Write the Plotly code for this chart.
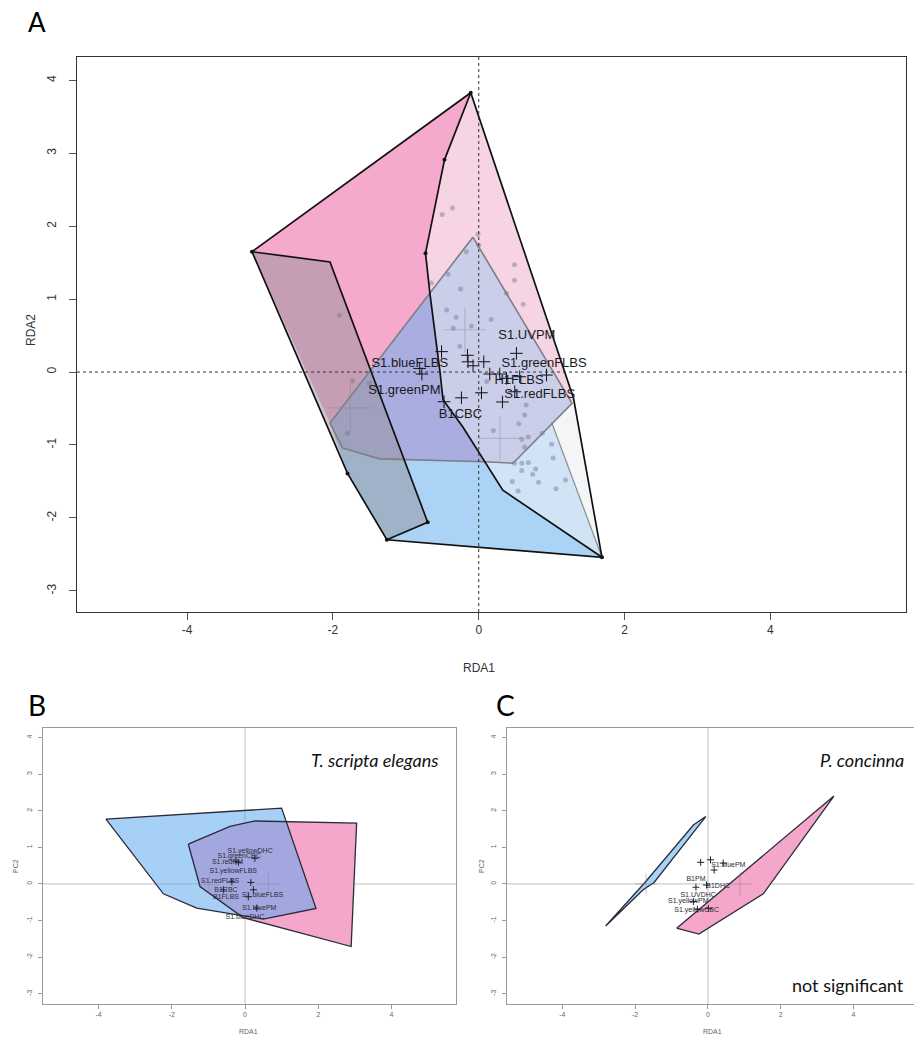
import plotly.graph_objects as go

W, H = 914, 1038

# ---------------- Panel A (RDA1 x RDA2) ----------------
hotpink_x = [-3.11, -0.11, -0.47, -0.73, -0.67, -2.04]
hotpink_y = [1.65, 3.83, 2.91, 1.63, 1.08, -0.70]
lightpink_x = [-0.11, 1.30, 1.28, 0.47, 0.09, -0.22, -0.49, -0.53, -0.67, -0.73, -0.47]
lightpink_y = [3.83, -0.36, -0.43, -1.25, -1.23, -0.75, -0.38, -0.01, 1.08, 1.63, 2.91]
midblue_x = [-2.04, -1.87, -1.36, 0.09, 0.33, 1.69, -1.26, -1.80]
midblue_y = [-0.70, -1.04, -1.19, -1.23, -1.62, -2.54, -2.30, -1.39]
paleblue_x = [0.09, 0.47, 1.00, 1.69, 0.33]
paleblue_y = [-1.23, -1.25, -0.69, -2.54, -1.62]
white_x = [1.00, 1.28, 1.30, 1.69]
white_y = [-0.69, -0.43, -0.36, -2.54]
lavender_x = [-0.08, 1.28, 0.47, 0.09, -0.22, -0.49, -0.53, -0.67]
lavender_y = [1.85, -0.43, -1.25, -1.23, -0.75, -0.38, -0.01, 1.08]
purple_x = [-0.67, -0.53, -0.49, -0.22, 0.09, -1.36, -1.87, -2.04]
purple_y = [1.08, -0.01, -0.38, -0.75, -1.23, -1.19, -1.04, -0.70]
para_x = [-3.11, -2.04, -0.70, -1.26, -1.80]
para_y = [1.65, 1.51, -2.06, -2.30, -1.39]

outer_x = [-3.11, -0.11, 1.30, 1.69, -1.26, -1.80, -3.11]
outer_y = [1.65, 3.83, -0.36, -2.54, -2.30, -1.39, 1.65]
inner_x = [-0.11, -0.47, -0.73, -0.67, -0.53, -0.49, -0.22, 0.33, 1.69]
inner_y = [3.83, 2.91, 1.63, 1.08, -0.01, -0.38, -0.75, -1.62, -2.54]
paraedge_x = [-3.11, -2.04, -0.70, -1.26]
paraedge_y = [1.65, 1.51, -2.06, -2.30]
hull_x = [-0.08, 1.28, 0.47, 0.09, -1.36, -1.87, -2.04, -0.08]
hull_y = [1.85, -0.43, -1.25, -1.23, -1.19, -1.04, -0.70, 1.85]
grayedge_x = [1.00, 1.69]
grayedge_y = [-0.69, -2.54]
vert_x = [-0.11, -3.11, 1.69, -1.26, -1.80, -0.70, -0.47, -0.73]
vert_y = [3.83, 1.65, -2.54, -2.30, -1.39, -2.06, 2.91, 1.63]

site_x = [-0.36, -0.50, -0.01, 0.00, -0.17, -0.42, 0.49, 0.49, 0.38, 0.61, -0.25, -0.44,
          -0.31, -0.35, -0.10, 0.17, -0.26, -1.91, -1.73, -1.50, -1.80, -0.65, 0.11, 0.65,
          0.63, 0.55, 0.20, 0.59, 0.68, 0.63, 1.00, 1.02, 0.87, 0.49, 0.59, 0.68, 0.59,
          0.78, 0.74, 0.46, 0.82, 0.54, 1.06, 1.19]
site_y = [2.25, 2.16, 1.89, 1.74, 1.65, 1.34, 1.47, 1.26, 1.08, 0.93, 1.14, 0.85,
          0.75, 0.60, 0.63, 0.72, 0.35, 0.78, -0.12, -0.15, -0.84, 1.22, -0.13, -0.45,
          -0.59, -0.71, -0.80, -0.92, -0.89, -1.03, -0.99, -1.18, -0.84, -1.25, -1.25, -1.24, -1.35,
          -1.33, -1.40, -1.50, -1.51, -1.63, -1.60, -1.48]

cent_x = [-0.19, -1.76, 0.29]
cent_y = [0.58, -0.49, -0.91]
cent_sx = [0.29, 0.30, 0.30]
cent_sy = [0.31, 0.34, 0.30]

sp_x = [-0.51, -0.155, -0.147, -0.078, 0.069, 0.517, -0.81, -0.78, 0.151, 0.288, 0.38,
        0.562, 0.929, 0.494, 0.325, 0.037, -0.237, -0.476]
sp_y = [0.28, 0.23, 0.14, 0.086, 0.141, 0.257, 0.05, -0.027, -0.027, -0.027, -0.086,
        -0.064, -0.041, -0.27, -0.41, -0.284, -0.353, -0.407]
lab_text = ["S1.UVPM", "S1.blueFLBS", "S1.greenFLBS", "S1.greenPM", "H1FLBS", "S1.redFLBS", "B1CBC"]
lab_x = [0.66, -0.946, 0.896, -1.02, 0.553, 0.837, -0.25]
lab_y = [0.50, 0.11, 0.11, -0.26, -0.115, -0.31, -0.59]

# ---------------- Panel B (T. scripta elegans) ----------------
B_pink_x = [-1.55, -0.41, 0.27, 3.05, 2.90, -0.05, -1.23]
B_pink_y = [1.09, 1.57, 1.72, 1.66, -1.71, -0.92, -0.07]
B_blue_x = [-3.80, 1.00, 1.94, 0.50, -1.32, -2.23]
B_blue_y = [1.77, 2.07, -0.67, -0.96, -0.66, -0.27]
B_sp_x = [0.16, -0.18, 0.27, 0.23, 0.09, 0.32, -0.36, -0.59, -0.25]
B_sp_y = [0.04, 0.59, 0.70, -0.16, -0.35, -0.66, 0.06, -0.16, 0.62]
B_lab = ["S1.yellowDHC", "S1.greenCBC", "S1.redPM", "S1.yellowFLBS", "S1.redFLBS",
         "B1CBC", "B1FLBS", "S1.blueFLBS", "S1.bluePM", "S1.blueDHC"]
B_lab_x = [0.14, -0.16, -0.48, -0.32, -0.68, -0.52, -0.52, 0.48, 0.39, 0.00]
B_lab_y = [0.90, 0.75, 0.59, 0.36, 0.06, -0.16, -0.35, -0.32, -0.66, -0.91]
B_cent_x = [0.64, -0.98]
B_cent_y = [0.0, -0.02]
B_cent_s = [0.33, 0.28]

# ---------------- Panel C (P. concinna) ----------------
C_blue_x = [-2.81, -1.73, -0.40, -0.06, -1.48, -1.78]
C_blue_y = [-1.15, 0.04, 1.61, 1.84, 0.04, -0.16]
C_pink_x = [-0.86, -0.25, 1.52, 3.46]
C_pink_y = [-1.21, -1.37, -0.27, 2.40]
C_sp_x = [-0.20, 0.07, 0.17, 0.42, -0.33, -0.04, -0.40, -0.29, 0.01]
C_sp_y = [0.59, 0.66, 0.38, 0.57, -0.09, -0.03, -0.48, -0.69, -0.67]
C_lab = ["S1.bluePM", "B1PM", "B1DHC", "S1.UVDHC", "S1.yellowPM", "S1.yellowCBC"]
C_lab_x = [0.56, -0.33, 0.28, -0.27, -0.54, -0.31]
C_lab_y = [0.50, 0.13, -0.07, -0.30, -0.48, -0.71]
C_cent_x = [0.88, -1.70]
C_cent_y = [0.0, 0.0]
C_cent_s = [0.32, 0.29]

ticks_x = [-4, -2, 0, 2, 4]
ticks_y = [-3, -2, -1, 0, 1, 2, 3, 4]

FONT = "Liberation Sans"
fig = go.Figure()


def poly(x, y, color, xa, ya, edge=None, ew=0):
    fig.add_trace(go.Scatter(x=x + [x[0]], y=y + [y[0]], mode="lines", fill="toself",
                             fillcolor=color, xaxis=xa, yaxis=ya, hoverinfo="skip",
                             line=dict(color=edge if edge else "rgba(0,0,0,0)", width=ew)))


def line(x, y, color, width, xa, ya, dash=None):
    fig.add_trace(go.Scatter(x=x, y=y, mode="lines", xaxis=xa, yaxis=ya, hoverinfo="skip",
                             line=dict(color=color, width=width, dash=dash)))


def crosses(cx, cy, sx, sy, color, width, xa, ya):
    xs, ys = [], []
    for a, b, dx, dy in zip(cx, cy, sx, sy):
        xs += [a - dx, a + dx, None, a, a, None]
        ys += [b, b, None, b - dy, b + dy, None]
    line(xs, ys, color, width, xa, ya)


# ---- Panel A layers ----
poly(hotpink_x, hotpink_y, "#F5A9CC", "x", "y")
poly(lightpink_x, lightpink_y, "#F7D4E4", "x", "y")
poly(midblue_x, midblue_y, "#ABD3F5", "x", "y")
poly(paleblue_x, paleblue_y, "#D0E4F6", "x", "y")
poly(white_x, white_y, "#F4F5F7", "x", "y")
poly(lavender_x, lavender_y, "#CACEE9", "x", "y")
poly(purple_x, purple_y, "#A9ADE0", "x", "y")
poly(para_x, para_y, "rgba(150,145,155,0.50)", "x", "y")

fig.add_trace(go.Scatter(x=site_x, y=site_y, mode="markers", xaxis="x", yaxis="y", hoverinfo="skip",
                         marker=dict(size=5, color="rgba(120,115,140,0.45)")))
crosses(cent_x, cent_y, cent_sx, cent_sy, "rgba(130,130,150,0.35)", 1.2, "x", "y")

line(hull_x, hull_y, "#7E7E86", 1.6, "x", "y")
line(grayedge_x, grayedge_y, "#8A8A8A", 1.2, "x", "y")
line(outer_x, outer_y, "#111111", 1.7, "x", "y")
line(inner_x, inner_y, "#111111", 1.7, "x", "y")
line(paraedge_x, paraedge_y, "#111111", 1.7, "x", "y")
fig.add_trace(go.Scatter(x=vert_x, y=vert_y, mode="markers", xaxis="x", yaxis="y", hoverinfo="skip",
                         marker=dict(size=4, color="#111111")))

fig.add_trace(go.Scatter(x=sp_x, y=sp_y, mode="markers", xaxis="x", yaxis="y", hoverinfo="skip",
                         marker=dict(symbol="cross-thin", size=9, line=dict(color="#111111", width=1))))
fig.add_trace(go.Scatter(x=lab_x, y=lab_y, mode="text", text=lab_text, xaxis="x", yaxis="y",
                         hoverinfo="skip", textposition="middle center",
                         textfont=dict(family=FONT, size=13, color="#1a1a1a")))

# ---- Panel B ----
poly(B_pink_x, B_pink_y, "#F4A7CB", "x2", "y2")
poly(B_blue_x, B_blue_y, "rgba(95,170,240,0.55)", "x2", "y2")
line(B_pink_x + [B_pink_x[0]], B_pink_y + [B_pink_y[0]], "#2a2a3a", 1.3, "x2", "y2")
line(B_blue_x + [B_blue_x[0]], B_blue_y + [B_blue_y[0]], "#2a2a3a", 1.3, "x2", "y2")
crosses(B_cent_x, B_cent_y, B_cent_s, B_cent_s, "rgba(120,120,140,0.35)", 1, "x2", "y2")
fig.add_trace(go.Scatter(x=B_sp_x, y=B_sp_y, mode="markers", xaxis="x2", yaxis="y2", hoverinfo="skip",
                         marker=dict(symbol="cross-thin", size=5, line=dict(color="#222", width=1))))
fig.add_trace(go.Scatter(x=B_lab_x, y=B_lab_y, mode="text", text=B_lab, xaxis="x2", yaxis="y2",
                         hoverinfo="skip", textfont=dict(family=FONT, size=7, color="#2a2a3a")))

# ---- Panel C ----
poly(C_pink_x, C_pink_y, "#F4A7CB", "x3", "y3", "#2a2a3a", 1.3)
poly(C_blue_x, C_blue_y, "#A9D3F5", "x3", "y3", "#2a2a3a", 1.3)
crosses(C_cent_x, C_cent_y, C_cent_s, C_cent_s, "rgba(120,120,140,0.45)", 1, "x3", "y3")
fig.add_trace(go.Scatter(x=C_sp_x, y=C_sp_y, mode="markers", xaxis="x3", yaxis="y3", hoverinfo="skip",
                         marker=dict(symbol="cross-thin", size=5, line=dict(color="#222", width=1))))
fig.add_trace(go.Scatter(x=C_lab_x, y=C_lab_y, mode="text", text=C_lab, xaxis="x3", yaxis="y3",
                         hoverinfo="skip", textfont=dict(family=FONT, size=7, color="#2a2a3a")))


def px_x(p):
    return p / W


def px_y(p):
    return 1 - p / H


axA = dict(showgrid=False, zeroline=False, showline=True, linecolor="#333", linewidth=1, mirror=True,
           ticks="outside", ticklen=7, tickcolor="#555", tickfont=dict(family=FONT, size=12, color="#333"))
axS = dict(showgrid=False, zeroline=False, showline=True, linecolor="#999", linewidth=1,
           ticks="outside", ticklen=4, tickcolor="#999", tickfont=dict(family=FONT, size=7, color="#666"))

fig.update_layout(
    width=W, height=H, margin=dict(l=0, r=0, t=0, b=0), showlegend=False,
    paper_bgcolor="white", plot_bgcolor="white",
    xaxis=dict(axA, domain=[px_x(77), px_x(906)], range=[-5.51, 5.86], anchor="y",
               tickvals=ticks_x, ticktext=[str(v) for v in ticks_x]),
    yaxis=dict(axA, domain=[px_y(612), px_y(57)], range=[-3.29, 4.32], anchor="x",
               tickvals=ticks_y, ticktext=[str(v) for v in ticks_y], tickangle=-90, ticklabelstandoff=8),
    xaxis2=dict(axS, domain=[px_x(43), px_x(456)], range=[-5.52, 5.765], anchor="y2", mirror=True,
                tickvals=ticks_x, ticktext=[str(v) for v in ticks_x]),
    yaxis2=dict(axS, domain=[px_y(1004), px_y(728)], range=[-3.28, 4.26], anchor="x2", mirror=True,
                tickvals=ticks_y, ticktext=[str(v) for v in ticks_y], tickangle=-90, ticklabelstandoff=3),
    xaxis3=dict(axS, domain=[px_x(507), 1.0], range=[-5.52, 5.66], anchor="y3", mirror=True,
                tickvals=ticks_x, ticktext=[str(v) for v in ticks_x]),
    yaxis3=dict(axS, domain=[px_y(1004), px_y(728)], range=[-3.28, 4.26], anchor="x3", mirror=False,
                tickvals=ticks_y, ticktext=[str(v) for v in ticks_y], tickangle=-90, ticklabelstandoff=3),
)

shapes = []
shapes.append(dict(type="line", xref="x", yref="y domain", x0=0, x1=0, y0=0, y1=1,
                   line=dict(color="#333", width=1, dash="dot"), layer="above"))
shapes.append(dict(type="line", xref="x domain", yref="y", x0=0, x1=1, y0=0, y1=0,
                   line=dict(color="#333", width=1, dash="dot"), layer="above"))
for xr, yr in [("x2", "y2"), ("x3", "y3")]:
    shapes.append(dict(type="line", xref=xr, yref=yr + " domain", x0=0, x1=0, y0=0, y1=1,
                       line=dict(color="rgba(150,150,150,0.6)", width=1), layer="below"))
    shapes.append(dict(type="line", xref=xr + " domain", yref=yr, x0=0, x1=1, y0=0, y1=0,
                       line=dict(color="rgba(150,150,150,0.6)", width=1), layer="below"))
fig.update_layout(shapes=shapes)

LET = "Lato"


def note(text, x, y, font, size, color, angle=0, xanchor="center"):
    return dict(text=text, x=px_x(x), y=px_y(y), xref="paper", yref="paper", showarrow=False,
                xanchor=xanchor, yanchor="middle", textangle=angle,
                font=dict(family=font, size=size, color=color))


ann = [
    note("A", 37, 22, LET, 26, "#000"),
    note("B", 37, 705, LET, 28, "#000"),
    note("C", 505, 705, LET, 28, "#000"),
    note("RDA1", 479, 668, FONT, 12, "#333"),
    note("RDA2", 31, 330, FONT, 12, "#333", -90),
    note("RDA1", 248, 1031, FONT, 7, "#666"),
    note("PC2", 15, 866, FONT, 7, "#666", -90),
    note("RDA1", 712, 1031, FONT, 7, "#666"),
    note("PC2", 481, 866, FONT, 7, "#666", -90),
    note("<i>T. scripta elegans</i>", 440, 760, LET, 18, "#111", xanchor="right"),
    note("<i>P. concinna</i>", 906, 760, LET, 18, "#111", xanchor="right"),
    note("not significant", 906, 985, LET, 18, "#111", xanchor="right"),
]
fig.update_layout(annotations=ann)

fig.write_html("out.html", config={"displayModeBar": False},
               post_script="document.body.style.margin='0px';document.body.style.overflow='hidden';")
